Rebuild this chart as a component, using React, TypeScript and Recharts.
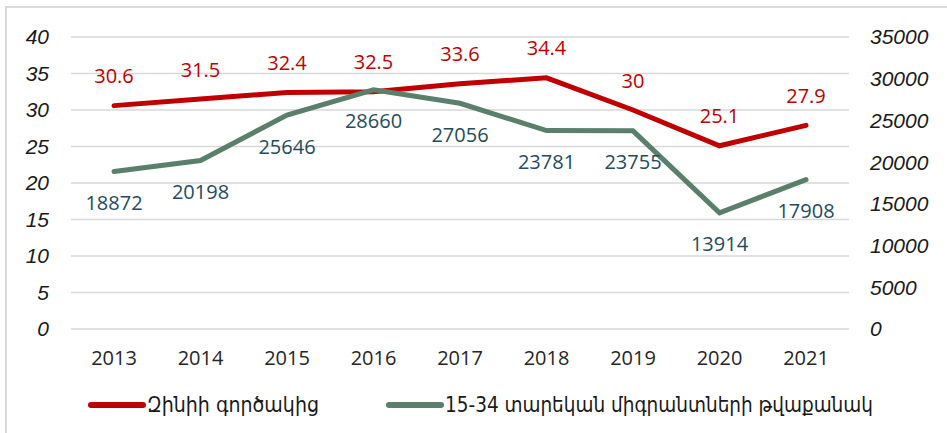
import React from "react";
import { LineChart, Line, XAxis, YAxis, CartesianGrid, Legend, LabelList } from "recharts";

const years = ["2013", "2014", "2015", "2016", "2017", "2018", "2019", "2020", "2021"];
const gini = [30.6, 31.5, 32.4, 32.5, 33.6, 34.4, 30, 25.1, 27.9];
const migrants = [18872, 20198, 25646, 28660, 27056, 23781, 23755, 13914, 17908];
const leftTicks = [0, 5, 10, 15, 20, 25, 30, 35, 40];
const rightTicks = [0, 5000, 10000, 15000, 20000, 25000, 30000, 35000];
const giniName = "Զինիի գործակից";
const migrantsName = "15-34 տարեկան միգրանտների թվաքանակ";

const data = years.map((year, i) => ({ year, gini: gini[i], migrants: migrants[i] }));

const RED = "#C00000";
const GREEN = "#5A7F6B";
const GREEN_TEXT = "#244C5C";

const tickFont = { fontFamily: "Liberation Sans", fontStyle: "italic", fontSize: 21, fill: "#1a1a1a" };

const RedLabel = (props: any) => {
  const { x, y, value } = props;
  return (
    <text x={x} y={y - 30} textAnchor="middle" dominantBaseline="central" fill={RED}
      style={{ fontFamily: "Open Sans", fontSize: 20 }}>
      {value}
    </text>
  );
};

const GreenLabel = (props: any) => {
  const { x, y, value } = props;
  return (
    <text x={x} y={y + 31} textAnchor="middle" dominantBaseline="central" fill={GREEN_TEXT}
      style={{ fontFamily: "Open Sans", fontSize: 20 }}>
      {value}
    </text>
  );
};

const LegendContent = () => (
  <svg width={947} height={40}>
    <line x1={91} y1={20} x2={143} y2={20} stroke={RED} strokeWidth={6} strokeLinecap="round" />
    <text x={147} y={20} dominantBaseline="central" textLength={172} lengthAdjust="spacingAndGlyphs"
      style={{ fontFamily: "DejaVu Sans Condensed", fontSize: 21, fill: "#1a1a1a" }}>
      {giniName}
    </text>
    <line x1={389} y1={20} x2={441} y2={20} stroke={GREEN} strokeWidth={6} strokeLinecap="round" />
    <text x={445} y={20} dominantBaseline="central" textLength={428} lengthAdjust="spacingAndGlyphs"
      style={{ fontFamily: "DejaVu Sans Condensed", fontSize: 21, fill: "#1a1a1a" }}>
      {migrantsName}
    </text>
  </svg>
);

export default function App() {
  return (
    <div style={{ position: "absolute", left: 0, top: 0, width: 947, height: 433, background: "#fff" }}>
      <div style={{ position: "absolute", left: 5, top: 6, width: 960, height: 440, borderLeft: "2px solid #d9d9d9", borderTop: "2px solid #d9d9d9" }} />
      <LineChart width={947} height={433} data={data} margin={{ top: 37, right: 0, bottom: 0, left: 0 }}>
        <CartesianGrid yAxisId="left" vertical={false} stroke="#d9d9d9" strokeWidth={1.5} />
        <XAxis dataKey="year" axisLine={false} tickLine={false} tickSize={0} tickMargin={22} height={64}
          padding={{ left: 43, right: 43 }}
          tick={{ fontFamily: "Open Sans", fontSize: 20, fill: "#262626" }} />
        <YAxis yAxisId="left" domain={[0, 40]} ticks={leftTicks} width={71} axisLine={false} tickLine={false}
          tickSize={0} tickMargin={22} tick={tickFont} />
        <YAxis yAxisId="right" orientation="right" domain={[0, 35000]} ticks={rightTicks} width={98}
          axisLine={false} tickLine={false} tickSize={0} tickMargin={21} tick={{ ...tickFont, textAnchor: "start" }} />
        <Legend verticalAlign="bottom" content={<LegendContent />}
          wrapperStyle={{ left: 0, top: 385, width: 947, height: 40 }} />
        <Line yAxisId="left" dataKey="gini" name={giniName} stroke={RED} strokeWidth={5} dot={false}
          strokeLinecap="round" isAnimationActive={false}>
          <LabelList dataKey="gini" content={RedLabel} />
        </Line>
        <Line yAxisId="right" dataKey="migrants" name={migrantsName} stroke={GREEN} strokeWidth={5} dot={false}
          strokeLinecap="round" isAnimationActive={false}>
          <LabelList dataKey="migrants" content={GreenLabel} />
        </Line>
      </LineChart>
    </div>
  );
}
